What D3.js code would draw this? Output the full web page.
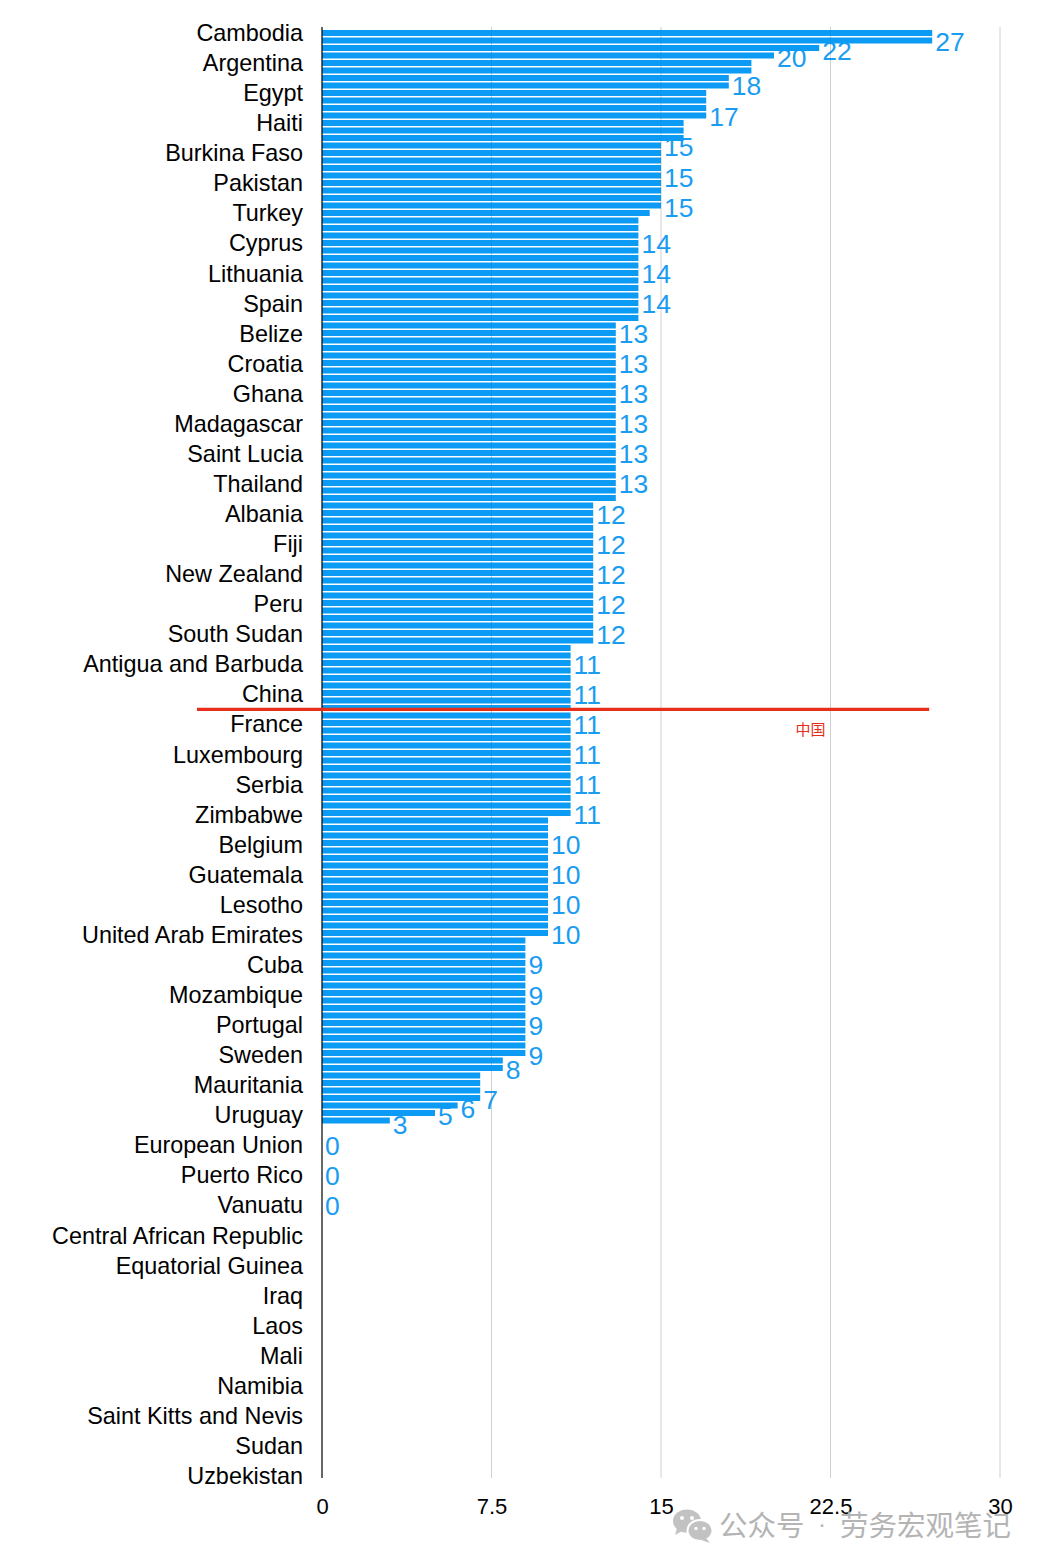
<!DOCTYPE html>
<html><head><meta charset="utf-8">
<script src="https://cdn.jsdelivr.net/npm/d3@7"></script>
<style>html,body{margin:0;padding:0;background:#fff;} svg{display:block;}</style>
</head><body>
<svg id="chart" width="1044" height="1568"></svg>
<script>
// ---- data ----
const categories = [
  "Cambodia","Argentina","Egypt","Haiti","Burkina Faso","Pakistan","Turkey","Cyprus",
  "Lithuania","Spain","Belize","Croatia","Ghana","Madagascar","Saint Lucia","Thailand",
  "Albania","Fiji","New Zealand","Peru","South Sudan","Antigua and Barbuda","China","France",
  "Luxembourg","Serbia","Zimbabwe","Belgium","Guatemala","Lesotho","United Arab Emirates","Cuba",
  "Mozambique","Portugal","Sweden","Mauritania","Uruguay","European Union","Puerto Rico","Vanuatu",
  "Central African Republic","Equatorial Guinea","Iraq","Laos","Mali","Namibia",
  "Saint Kitts and Nevis","Sudan","Uzbekistan"
];
// thin bars (one per row, top to bottom)
const barValues = [
  27,27,22,20,19,19,18,18,17,17,17,17,16,16,16,
  15,15,15,15,15,15,15,15,15,14.5,
  14,14,14,14,14,14,14,14,14,14,14,14,14,14,
  13,13,13,13,13,13,13,13,13,13,13,13,
  13,13,13,13,13,13,13,13,13,13,13,13,
  12,12,12,12,12,12,12,12,12,12,
  12,12,12,12,12,12,12,12,12,
  11,11,11,11,11,11,11,11,11,11,11,11,
  11,11,11,11,11,11,11,11,11,11,11,
  10,10,10,10,10,10,10,10,10,10,10,10,10,10,10,10,
  9,9,9,9,9,9,9,9,9,9,9,9,9,9,9,9,
  8,8,7,7,7,7,6,5,3
];
// value labels and their (fractional) rank position on the category axis
const labelValues = [27,22,20,18,17,15,15,15,14,14,14,13,13,13,13,13,13,12,12,12,12,12,
  11,11,11,11,11,11,10,10,10,10,9,9,9,9,8,7,6,5,3,0,0,0];
const labelRanks = [0.27,0.57,0.82,1.76,2.76,3.79,4.79,5.79,7,8,9,10,11,12,13,14,15,16,17,18,19,20,
  21,22,23,24,25,26,27,28,29,30,31,32,33,34,34.47,35.46,35.76,36.02,36.3,37,38,39];
const xTicks = [0, 7.5, 15, 22.5, 30];
const highlightCategory = "China";
const highlightNext = "France";
const highlightText = "中国";
const watermarkA = "公众号", watermarkDot = "·", watermarkB = "劳务宏观笔记";

// ---- drawing ----
(function () {
const FONT = "'Liberation Sans', Arial, Helvetica, sans-serif";
const CJK = "'Noto Sans CJK SC', sans-serif";
const BLUE = "#0b9bf4", LBLUE = "#1a9cf0", RED = "#e62e1b";
const svg = d3.select("#chart");

const x = d3.scaleLinear().domain([0, 30]).range([322, 1000]);
const yBar = d3.scaleBand().domain(d3.range(barValues.length)).range([30, 1123.5]).paddingInner(0.2).paddingOuter(0);
const yCat = d3.scalePoint().domain(categories).range([33, 1476]);
const yRank = d3.scaleLinear().domain([0, categories.length - 1]).range([33, 1476]);
const yTop = 27, yBottom = 1478;

// gridlines (behind)
svg.append("g").selectAll("line").data(xTicks.filter(d => d > 0)).join("line")
  .attr("x1", d => x(d)).attr("x2", d => x(d)).attr("y1", yTop).attr("y2", yBottom)
  .attr("stroke", "#dcdcdc").attr("stroke-width", 1);

// value labels
svg.append("g").selectAll("text").data(labelValues).join("text")
  .attr("x", d => x(d) + 3)
  .attr("y", (d, i) => yRank(labelRanks[i]))
  .attr("dy", "0.36em")
  .attr("font-family", FONT).attr("font-size", 26.5).attr("fill", LBLUE)
  .text(d => d);

// bars
svg.append("g").selectAll("rect").data(barValues).join("rect")
  .attr("x", x(0)).attr("y", (d, i) => yBar(i))
  .attr("width", d => x(d) - x(0)).attr("height", yBar.bandwidth())
  .attr("fill", BLUE);

// faint gridlines over the bars
svg.append("g").selectAll("line").data(xTicks.filter(d => d > 0)).join("line")
  .attr("x1", d => x(d)).attr("x2", d => x(d)).attr("y1", yTop).attr("y2", yBottom)
  .attr("stroke", "#000").attr("stroke-opacity", 0.05).attr("stroke-width", 1);

// category axis
const yAxis = svg.append("g").attr("transform", `translate(${x(0)},0)`)
  .call(d3.axisLeft(yCat).tickSize(0).tickPadding(19));
yAxis.select(".domain").remove();
yAxis.selectAll("text").attr("font-family", FONT).attr("font-size", 23.4).attr("fill", "#000");
svg.append("line").attr("x1", x(0)).attr("x2", x(0)).attr("y1", yTop).attr("y2", yBottom)
  .attr("stroke", "#000").attr("stroke-width", 1.2);

// x axis
const xAxis = svg.append("g").attr("transform", `translate(0,${yBottom})`)
  .call(d3.axisBottom(x).tickValues(xTicks).tickSize(0).tickPadding(20).tickFormat(d => String(d)));
xAxis.select(".domain").remove();
xAxis.selectAll("text").attr("font-family", FONT).attr("font-size", 22).attr("fill", "#000");

// highlight line for China
const hy = (yCat(highlightCategory) + yCat(highlightNext)) / 2;
svg.append("line").attr("x1", 197).attr("x2", x(27) - 3).attr("y1", hy).attr("y2", hy)
  .attr("stroke", RED).attr("stroke-width", 3.4);
svg.append("text").attr("x", x(22.5) - 5).attr("y", hy + 26).attr("text-anchor", "end")
  .attr("font-family", CJK).attr("font-size", 15).attr("fill", RED).text(highlightText);

// watermark
const wm = svg.append("g");
wm.append("ellipse").attr("cx", 687).attr("cy", 1521).attr("rx", 14).attr("ry", 11.5).attr("fill", "#c2c2c2");
wm.append("path").attr("d", "M677,1528 L675,1535 L684,1530 Z").attr("fill", "#c2c2c2");
wm.append("circle").attr("cx", 682).attr("cy", 1518).attr("r", 2).attr("fill", "#fff");
wm.append("circle").attr("cx", 692).attr("cy", 1518).attr("r", 2).attr("fill", "#fff");
wm.append("ellipse").attr("cx", 700).attr("cy", 1530.5).attr("rx", 12.5).attr("ry", 10.5)
  .attr("fill", "#c2c2c2").attr("stroke", "#fff").attr("stroke-width", 2);
wm.append("path").attr("d", "M706,1538 L710,1543 L701,1540 Z").attr("fill", "#c2c2c2");
wm.append("circle").attr("cx", 696).attr("cy", 1528.5).attr("r", 1.7).attr("fill", "#fff");
wm.append("circle").attr("cx", 704).attr("cy", 1528.5).attr("r", 1.7).attr("fill", "#fff");
wm.append("text").attr("x", 719).attr("y", 1536).attr("font-family", CJK).attr("font-size", 28.5)
  .attr("fill", "#b4b4b4").text(watermarkA);
wm.append("text").attr("x", 822).attr("y", 1532).attr("text-anchor", "middle").attr("font-family", FONT)
  .attr("font-size", 24).attr("fill", "#b4b4b4").text(watermarkDot);
wm.append("text").attr("x", 840).attr("y", 1536).attr("font-family", CJK).attr("font-size", 28.5)
  .attr("fill", "#b4b4b4").text(watermarkB);
})();
</script>
</body></html>
